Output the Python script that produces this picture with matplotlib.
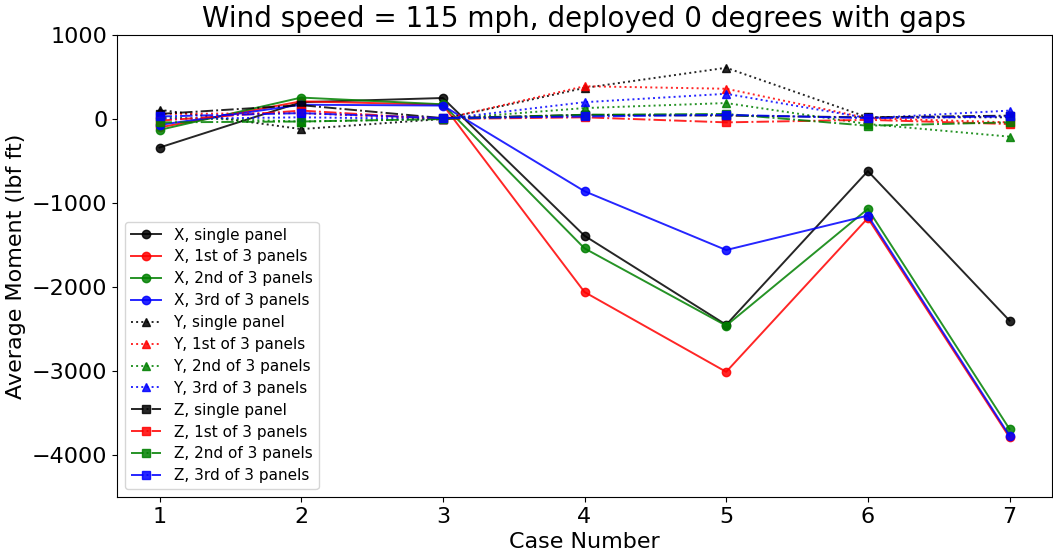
import matplotlib
matplotlib.use("Agg")
import matplotlib.pyplot as plt

cases = [1, 2, 3, 4, 5, 6, 7]
X_single = [-340, 200, 250, -1390, -2450, -620, -2400]
X_1st = [-100, 210, 170, -2060, -3010, -1180, -3790]
X_2nd = [-130, 255, 175, -1540, -2460, -1070, -3690]
X_3rd = [-70, 170, 160, -860, -1560, -1150, -3770]
Y_single = [110, -120, 0, 370, 610, 20, 20]
Y_1st = [60, 70, 0, 390, 360, 10, -40]
Y_2nd = [20, -30, 0, 130, 190, -60, -210]
Y_3rd = [0, 20, 0, 200, 300, 10, 100]
Z_single = [60, 165, 10, 50, 40, 20, 40]
Z_1st = [-20, 100, 0, 20, -40, -10, -60]
Z_2nd = [-40, -30, 0, 50, 60, -80, -40]
Z_3rd = [30, 70, 10, 30, 50, 10, 30]

labels = ["single panel", "1st of 3 panels", "2nd of 3 panels", "3rd of 3 panels"]
colors = ["k", "r", "g", "b"]

fig = plt.figure(figsize=(10.53, 5.52), dpi=100)
ax = fig.add_axes([117/1053, 1-497/552, (1052-117)/1053, (497-35)/552])

for comp, series, ls, mk in [("X", [X_single, X_1st, X_2nd, X_3rd], "-", "o"),
                             ("Y", [Y_single, Y_1st, Y_2nd, Y_3rd], ":", "^"),
                             ("Z", [Z_single, Z_1st, Z_2nd, Z_3rd], "-.", "s")]:
    for s, c, lab in zip(series, colors, labels):
        ax.plot(cases, s, color=c, linestyle=ls, marker=mk, markersize=6,
                linewidth=1.4, alpha=0.85, label=f"{comp}, {lab}")

ax.set_xlim(0.7, 7.3)
ax.set_ylim(-4500, 1000)
ax.set_xticks(cases)
ax.set_yticks([1000, 0, -1000, -2000, -3000, -4000])
ax.tick_params(labelsize=16)
ax.set_xlabel("Case Number", fontsize=16)
ax.set_ylabel("Average Moment (lbf ft)", fontsize=16)
ax.set_title("Wind speed = 115 mph, deployed 0 degrees with gaps", fontsize=20)
ax.legend(loc="lower left", fontsize=11, labelspacing=0.45)

fig.savefig("out.png", dpi=100)
